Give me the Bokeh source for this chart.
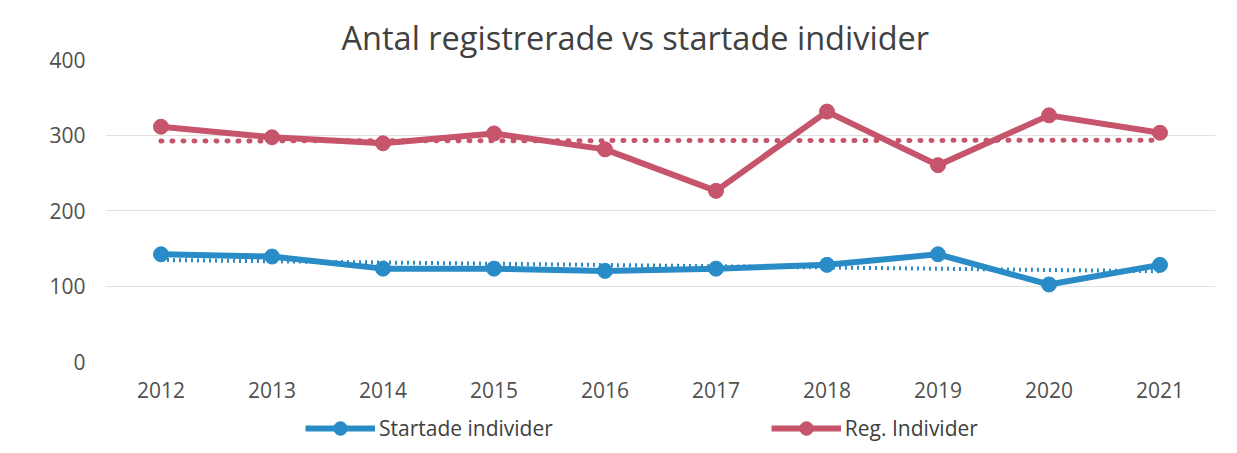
import numpy as np
from bokeh.plotting import figure
from bokeh.models import Legend, LegendItem, FactorRange, ColumnDataSource
from bokeh.layouts import column
from bokeh.embed import file_html
from bokeh.resources import INLINE

years = ["2012", "2013", "2014", "2015", "2016", "2017", "2018", "2019", "2020", "2021"]
startade = [142, 139, 123, 123, 120, 123, 128, 142, 102, 128]
registrerade = [311, 297, 289, 302, 281, 226, 331, 260, 326, 303]
y_ticks = [0, 100, 200, 300, 400]
series_names = ["Startade individer", "Reg. Individer"]

BLUE = "#2A8CC6"
RED = "#C6546A"
FONT = "Open Sans"

idx = np.arange(len(years))
b_fit = np.polyval(np.polyfit(idx, startade, 1), idx)
r_fit = np.polyval(np.polyfit(idx, registrerade, 1), idx)

p = figure(width=1221, height=405, x_range=FactorRange(*years),
           y_range=(0, 400), output_backend="svg", toolbar_location=None,
           title="Antal registrerade vs startade individer")
p.x_range.range_padding = 0
p.min_border_left = 105
p.min_border_right = 6
p.min_border_top = 59
p.min_border_bottom = 44

p.title.align = "left"
p.title.text_font = FONT
p.title.text_font_style = "normal"
p.title.text_font_size = "32.5px"
p.title.text_color = "#404040"
p.title.offset = 236
p.title.standoff = 0

p.outline_line_color = None
p.xgrid.grid_line_color = None
p.ygrid.grid_line_color = "#e2e2e2"
p.ygrid.grid_line_width = 1
p.yaxis.ticker = y_ticks
for ax in (p.xaxis, p.yaxis):
    ax.axis_line_color = None
    ax.major_tick_line_color = None
    ax.minor_tick_line_color = None
    ax.major_label_text_font = FONT
    ax.major_label_text_font_size = "21px"
    ax.major_label_text_color = "#505050"
p.yaxis.major_label_standoff = 14
p.xaxis.major_label_standoff = 14

src = ColumnDataSource(dict(x=years, s=startade, r=registrerade, bf=b_fit, rf=r_fit))

p.line("x", "rf", source=src, line_color=RED, line_width=5, line_dash="1 10", line_cap="round")
p.line("x", "bf", source=src, line_color=BLUE, line_width=4, line_dash="2 4", line_cap="butt")

p.line("x", "s", source=src, line_color=BLUE, line_width=6)
p.scatter("x", "s", source=src, size=15, fill_color=BLUE, line_color=BLUE)
p.line("x", "r", source=src, line_color=RED, line_width=6)
p.scatter("x", "r", source=src, size=15, fill_color=RED, line_color=RED)

# legend strip below the chart (dummy renderers sit outside the visible range)
lf = figure(width=1221, height=42, x_range=(0, 1), y_range=(0, 1),
            output_backend="svg", toolbar_location=None)
lf.axis.visible = False
lf.grid.visible = False
lf.outline_line_color = None
lf.min_border = 0
lf.min_border_left = 105
lf.min_border_right = 6
dummy = ColumnDataSource(dict(x=[-10, -11], y=[-10, -11]))
lbl = lf.line("x", "y", source=dummy, line_color=BLUE, line_width=6)
lbs = lf.scatter("x", "y", source=dummy, size=15, fill_color=BLUE, line_color=BLUE)
lrl = lf.line("x", "y", source=dummy, line_color=RED, line_width=6)
lrs = lf.scatter("x", "y", source=dummy, size=15, fill_color=RED, line_color=RED)

legend = Legend(items=[LegendItem(label=series_names[0], renderers=[lbl, lbs]),
                       LegendItem(label=series_names[1], renderers=[lrl, lrs])],
                orientation="horizontal", location=(200, 2),
                glyph_width=70, glyph_height=34, label_standoff=4, spacing=218,
                label_text_font=FONT, label_text_font_size="21px", label_text_color="#404040",
                border_line_color=None, background_fill_alpha=0, padding=0, margin=0)
lf.add_layout(legend)

open("out.html", "w").write(file_html(column(p, lf, spacing=0), INLINE))
